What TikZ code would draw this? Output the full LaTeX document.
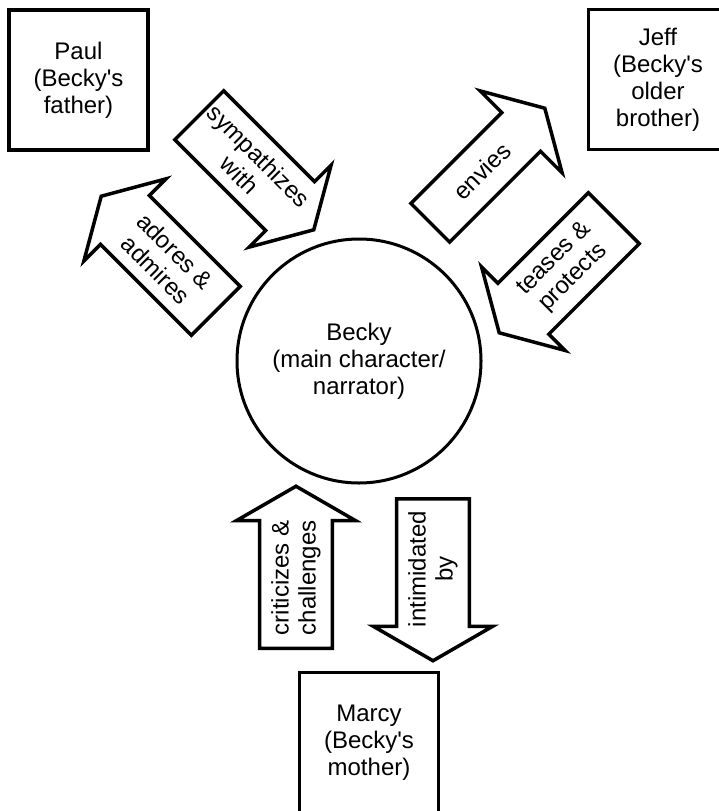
\documentclass[tikz,border=0pt]{standalone}
\usepackage{fontspec}
\setmainfont{Liberation Sans}[Ligatures=TeXOff]
\usetikzlibrary{shapes.arrows}

\begin{document}
\begin{tikzpicture}[
        x=1pt, y=-1pt,
        font=\fontsize{24}{27}\selectfont,
        person/.style={draw, line width=3.5pt, minimum width=139pt, minimum height=140pt, align=center, inner sep=0pt},
        hero/.style={draw, circle, line width=3pt, minimum size=244pt, align=center},
        rel/.style={draw, single arrow, line width=3.5pt, minimum height=162pt, minimum width=116pt,
          single arrow head extend=23pt, single arrow tip angle=120, inner xsep=0pt, inner ysep=10pt,
          align=center, anchor=tail}
      ]
      \useasboundingbox (0,0) rectangle (718,811);
      \node[hero] (becky) at (359,361) {Becky\\(main character/\\narrator)};
      \node[person] (paul) at (78.5,80) {Paul\\(Becky's\\father)};
      \node[person] (jeff) at (658,79.5) {Jeff\\(Becky's\\older\\brother)};
      \node[person] (marcy) at (369,742.5) {Marcy\\(Becky's\\mother)};
      % arrows between Becky and her family
      \node[rel, rotate=-45] (sympathizes) at (198,114) {sympathizes\\with};
      \node[rel, rotate=-45, shape border rotate=180] (adores) at (217,312) {adores \&\\admires};
      \node[rel, rotate=45] (envies) at (429,224) {envies};
      \node[rel, rotate=45, shape border rotate=180] (teases) at (615,217) {teases \&\\protects};
      \node[rel, rotate=90] (criticizes) at (296,650) {criticizes \&\\challenges};
      \node[rel, rotate=90, shape border rotate=180] (intimidated) at (433,497) {intimidated\\by};
    \end{tikzpicture}
\end{document}
